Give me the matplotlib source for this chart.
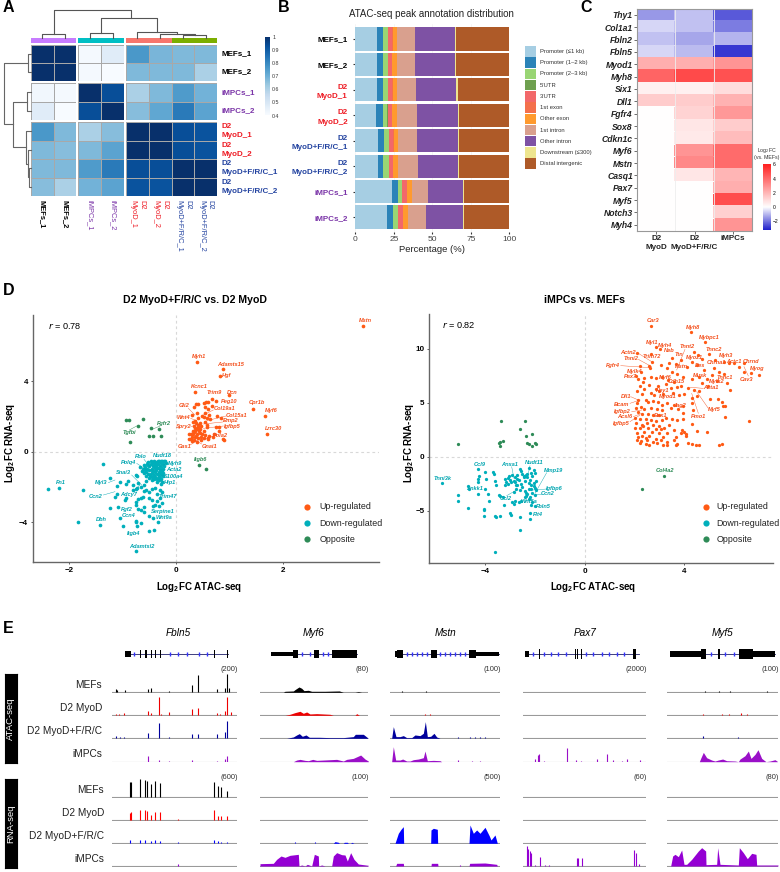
import numpy as np
import matplotlib
matplotlib.use("Agg")
import matplotlib.pyplot as plt
from matplotlib.colors import LinearSegmentedColormap, TwoSlopeNorm, Normalize

plt.rcParams['font.family'] = ['Liberation Sans', 'DejaVu Sans']
plt.rcParams['mathtext.fontset'] = 'custom'
plt.rcParams['mathtext.rm'] = 'Liberation Sans'
plt.rcParams['mathtext.bf'] = 'Liberation Sans:bold'

W, H = 780, 872

# ---------- panel A data
corr_names = ["MEFs_1", "MEFs_2", "iMPCs_1", "iMPCs_2", "D2\nMyoD_1", "D2\nMyoD_2", "D2\nMyoD+F/R/C_1", "D2\nMyoD+F/R/C_2"]
corr_colors = ["black", "black", "#7b35a8", "#7b35a8", "#ee1c25", "#ee1c25", "#2343a0", "#2343a0"]
corr = np.array([
    [1.00, 1.00, 0.41, 0.47, 0.76, 0.68, 0.67, 0.67],
    [1.00, 1.00, 0.41, 0.40, 0.67, 0.67, 0.67, 0.60],
    [0.42, 0.41, 1.00, 0.93, 0.60, 0.67, 0.75, 0.69],
    [0.47, 0.40, 0.93, 1.00, 0.66, 0.72, 0.83, 0.73],
    [0.76, 0.67, 0.60, 0.66, 1.00, 1.00, 0.93, 0.92],
    [0.67, 0.66, 0.67, 0.73, 1.00, 1.00, 0.93, 0.92],
    [0.67, 0.67, 0.75, 0.83, 0.93, 0.93, 1.00, 1.00],
    [0.66, 0.60, 0.69, 0.73, 0.92, 0.92, 1.00, 1.00]])
corr_ticks = [1, 0.9, 0.8, 0.7, 0.6, 0.5, 0.4]
# dendrogram links: left pos, right pos, height of link, height of left child, height of right child
top_links = [(126, 195, 103, 113, 113), (269, 338, 100, 113, 113), (550, 618, 104, 113, 113), (481, 584, 101, 113, 104),
             (412, 532, 97, 113, 101), (304, 472, 55, 100, 97), (161, 392, 30, 103, 55)]
left_links = [(505, 560, 88, 92, 92), (450, 532, 85, 92, 88), (394, 491, 78, 92, 85), (161, 216, 85, 92, 92),
              (305, 442, 38, 80, 78), (277, 333, 80, 92, 92), (188, 373, 11, 85, 38)]

# ---------- panel B data
bar_names = ["MEFs_1", "MEFs_2", "D2\nMyoD_1", "D2\nMyoD_2", "D2\nMyoD+F/R/C_1", "D2\nMyoD+F/R/C_2", "iMPCs_1", "iMPCs_2"]
bar_name_colors = ["black", "black", "#ee1c25", "#ee1c25", "#2343a0", "#2343a0", "#7b35a8", "#7b35a8"]
anno_names = ["Promoter (≤1 kb)", "Promoter (1–2 kb)", "Promoter (2–3 kb)", "5'UTR", "3'UTR", "1st exon", "Other exon",
              "1st intron", "Other intron", "Downstream (≤300)", "Distal intergenic"]
anno_colors = ["#a6cee3", "#2b83b8", "#99d574", "#6fa04f", "#f2686a", "#f4704c", "#ff9a2e", "#d9a08e", "#7e52a4", "#eee58e", "#ae5a28"]
anno_pct = np.array([
    [14.2, 4.0, 3.2, 0.1, 2.6, 0.2, 2.9, 11.8, 25.6, 1.0, 34.4],
    [14.0, 4.0, 3.2, 0.1, 2.6, 0.2, 2.8, 12.0, 25.9, 0.9, 34.2],
    [14.1, 4.0, 3.2, 0.1, 2.6, 0.2, 3.0, 12.3, 26.1, 1.0, 33.4],
    [13.7, 4.0, 3.2, 0.1, 2.8, 0.2, 3.2, 12.9, 26.3, 1.0, 32.5],
    [14.5, 4.0, 3.3, 0.1, 2.8, 0.2, 2.9, 12.3, 26.3, 1.0, 32.5],
    [14.5, 3.8, 3.3, 0.1, 2.8, 0.2, 3.0, 12.7, 26.0, 1.0, 32.5],
    [23.6, 3.9, 3.0, 0.1, 2.7, 0.2, 3.0, 10.9, 22.3, 0.8, 29.4],
    [20.6, 3.9, 3.3, 0.1, 3.1, 0.2, 3.1, 11.6, 23.8, 0.8, 29.5]])

# ---------- panel C data
fc_genes = ["Thy1", "Col1a1", "Fbln2", "Fbln5", "Myod1", "Myh8", "Six1", "Dll1", "Fgfr4", "Sox8", "Cdkn1c", "Myf6", "Mstn",
            "Casq1", "Pax7", "Myf5", "Notch3", "Myh4"]
fc_samples = ["D2\nMyoD", "D2\nMyoD+F/R/C", "iMPCs"]
fc_myod = [-1.5, -0.6, -0.9, -0.6, 2.2, 4.2, 0.4, 1.4, 0, 0, 0, 0, 0, 0, 0, 0, 0, 0]
fc_combo = [-0.9, -0.9, -1.3, -1.0, 2.2, 4.9, 0.4, 1.4, 1.2, 0.7, 0.6, 2.9, 3.2, 0.7, 0, 0, 0, 0]
fc_impc = [-2.4, -1.9, -1.1, -2.9, 2.9, 4.7, 0.9, 2.1, 2.8, 1.4, 1.8, 4.0, 4.0, 2.0, 2.2, 4.8, 1.3, 2.9]
fc_ticks = [6, 4, 2, 0, -2]

# ---------- panel D data (left plot)
up_l = [(3.51, 7.13), (0.39, 5.06), (0.89, 4.68), (0.82, 4.26), (0.37, 3.38), (0.99, 3.2), (0.68, 3.0), (0.76, 2.9), (1.45, 2.43),
        (1.66, 2.0), (1.7, 0.98), (0.38, 2.7), (0.41, 2.72), (0.35, 2.55), (0.53, 2.75), (0.57, 2.8), (0.6, 2.82), (0.55, 2.55),
        (0.68, 2.6), (0.6, 2.4), (0.4, 2.22), (0.55, 2.2), (0.3, 2.1), (0.62, 2.1), (0.52, 1.98), (0.5, 2.0), (0.42, 1.9),
        (0.58, 1.9), (0.78, 2.0), (0.84, 1.9), (0.65, 1.85), (0.36, 1.75), (0.32, 1.7), (0.55, 1.7), (0.38, 1.6), (0.45, 1.65),
        (0.42, 1.5), (0.35, 1.45), (0.48, 1.45), (0.58, 1.5), (0.58, 1.4), (0.75, 1.42), (0.8, 1.42), (0.4, 1.3), (0.45, 1.28),
        (0.33, 1.2), (0.37, 1.15), (0.8, 1.15), (0.72, 1.0), (0.24, 1.0), (0.28, 1.0), (0.33, 0.98), (0.4, 1.02), (0.45, 1.05),
        (0.5, 1.0), (0.55, 0.95), (0.62, 0.9), (0.7, 0.85), (0.6, 0.8), (0.3, 0.85), (0.36, 0.85), (0.42, 0.8), (0.47, 0.82),
        (0.52, 0.75), (0.6, 0.72), (0.88, 0.72), (0.9, 0.65), (0.25, 0.7), (0.3, 0.62), (0.35, 0.68), (0.4, 0.55), (0.47, 0.65),
        (0.28, 0.72), (0.38, 0.9), (0.34, 1.1), (0.43, 1.15), (0.52, 1.2), (0.36, 1.35), (0.41, 1.4)]
opp_l = [(-0.93, 1.78), (-0.88, 1.78), (-0.62, 1.83), (-0.71, 1.47), (-0.46, 1.32), (-0.31, 1.27), (-0.5, 0.9), (-0.43, 0.9),
         (-0.28, 0.87), (-0.85, 0.57), (0.43, -0.75), (0.56, -0.97)]
down_l = [(-1.36, -0.7), (-2.38, -2.1), (-2.18, -2.05), (-1.73, -2.15), (-1.82, -4.0), (-1.42, -4.13), (-1.22, -3.2), (-1.22, -1.5),
          (-1.1, -1.95), (-1.04, -1.7), (-1.1, -2.4), (-1.13, -2.55), (-1.07, -3.15), (-1.05, -3.75), (-0.98, -4.2), (-0.92, -2.6),
          (-0.95, -2.75), (-0.9, -1.65), (-0.92, -1.8), (-0.75, -2.1), (-0.8, -2.15), (-0.73, -2.05), (-0.74, -2.85), (-0.74, -3.0),
          (-0.7, -2.7), (-0.65, -2.6), (-0.62, -2.55), (-0.7, -3.25), (-0.65, -3.3), (-0.6, -3.15), (-0.6, -3.4), (-0.74, -3.9),
          (-0.74, -4.0), (-0.73, -4.2), (-0.65, -4.05), (-0.5, -3.65), (-0.43, -3.75), (-0.5, -4.5), (-0.4, -4.45), (-0.34, -4.0),
          (-0.75, -5.6), (-0.65, -2.0), (-0.6, -2.2), (-0.55, -2.15), (-0.5, -2.3), (-0.45, -2.1), (-0.38, -2.05), (-0.3, -2.15),
          (-0.25, -2.3), (-0.5, -2.6), (-0.45, -2.75), (-0.35, -2.4), (-0.3, -2.6), (-0.25, -2.9), (-0.35, -2.8), (-0.38, -3.0),
          (-0.42, -3.05), (-0.32, -3.1), (-0.8, -1.9), (-0.7, -1.75), (-0.6, -1.9), (-0.55, -1.65), (-0.45, -1.6), (-0.35, -1.7),
          (-0.28, -1.85), (-0.25, -1.7), (-0.75, -1.3), (-0.72, -1.4),
          # the dense blob near the origin
          (-0.66, -0.85), (-0.62, -0.95), (-0.6, -0.75), (-0.58, -1.05), (-0.57, -0.85), (-0.55, -1.15), (-0.54, -0.7), (-0.53, -0.95),
          (-0.52, -1.25), (-0.51, -0.6), (-0.5, -0.82), (-0.49, -1.05), (-0.48, -1.35), (-0.47, -0.5), (-0.46, -0.72), (-0.45, -0.95),
          (-0.45, -1.18), (-0.44, -1.45), (-0.43, -0.58), (-0.42, -0.82), (-0.42, -1.08), (-0.41, -1.3), (-0.4, -0.5), (-0.39, -0.7),
          (-0.39, -0.92), (-0.38, -1.15), (-0.38, -1.42), (-0.37, -0.58), (-0.36, -0.8), (-0.36, -1.02), (-0.35, -1.25), (-0.35, -1.55),
          (-0.34, -0.5), (-0.33, -0.68), (-0.33, -0.9), (-0.32, -1.12), (-0.32, -1.35), (-0.31, -0.55), (-0.3, -0.78), (-0.3, -1.0),
          (-0.29, -1.22), (-0.29, -1.48), (-0.28, -0.5), (-0.27, -0.65), (-0.27, -0.88), (-0.26, -1.1), (-0.26, -1.32), (-0.25, -0.52),
          (-0.24, -0.72), (-0.24, -0.95), (-0.23, -1.18), (-0.22, -0.55), (-0.21, -0.8), (-0.2, -0.5), (-0.19, -0.62), (-0.5, -1.5),
          (-0.46, -1.25), (-0.56, -1.35), (-0.6, -1.2), (-0.63, -1.1), (-0.41, -0.62), (-0.35, -0.62), (-0.44, -1.05), (-0.28, -1.05),
          (-0.52, -0.75), (-0.4, -1.55), (-0.34, -1.48), (-0.27, -1.55), (-0.24, -1.4), (-0.31, -1.62)]

labels_up_l = [("Mstn", 1097, 61), ("Myh1", 597, 169), ("Adamts15", 691, 192), ("Hgf", 681, 227), ("Kcnc1", 597, 259), ("Trim9", 644, 276),
               ("Dcn", 697, 276), ("Peg10", 688, 303), ("Cpr1b", 770, 308), ("Myf6", 814, 331), ("Gli2", 552, 316), ("Col19a1", 674, 326),
               ("Col15a1", 711, 346), ("Wnt4", 551, 353), ("Bmp2", 692, 362), ("Igfbp5", 697, 378), ("Spry2", 550, 380), ("Lrrc30", 820, 386),
               ("Pola2", 660, 406), ("Gas1", 553, 440), ("Gnai1", 628, 440)]
labels_down_l = [("Fblo", 423, 470), ("Nudt18", 487, 466), ("Polq4", 387, 487), ("Myh9", 526, 490), ("Acta2", 520, 508), ("S100a4", 521, 528),
                 ("Snai3", 371, 516), ("Hip1", 509, 548), ("Fn1", 183, 548), ("Myl3", 303, 548), ("Ccn2", 288, 590), ("Adcy7", 385, 584),
                 ("Trim47", 503, 590), ("Fgf2", 381, 627), ("Serpine1", 487, 634), ("Ccn4", 386, 645), ("Wnt9a", 491, 653), ("Dbh", 305, 657),
                 ("Itgb4", 401, 699), ("Adamtsl2", 424, 738)]
labels_opp_l = [("Fgfr2", 493, 371), ("Tgfbi", 388, 398), ("Itgb6", 601, 477)]
leaders_up_l = [(565, 325, 585, 345), (572, 355, 590, 362), (572, 380, 600, 372), (640, 330, 610, 345), (678, 348, 620, 362),
                (668, 366, 610, 372), (670, 378, 610, 385), (640, 408, 610, 418), (570, 435, 595, 420), (605, 432, 585, 420)]
leaders_down_l = [(410, 490, 440, 510), (432, 478, 450, 500), (395, 525, 425, 555), (325, 548, 345, 540), (310, 585, 345, 575),
                  (400, 575, 420, 555), (495, 546, 480, 540), (500, 490, 480, 500), (495, 508, 478, 510), (492, 526, 478, 525)]
leaders_opp_l = [(480, 378, 452, 390), (388, 390, 410, 378)]

# ---------- panel D data (right plot)
up_r = [(2.67, 12.15), (4.28, 11.55), (4.84, 10.6), (2.85, 10.15), (3.03, 10.0), (3.5, 9.2), (2.1, 9.65), (2.65, 9.5), (4.4, 9.7), (5.0, 9.55),
        (4.55, 9.4), (4.7, 9.1), (5.25, 8.95), (5.6, 8.8), (5.8, 8.67), (5.98, 8.73), (6.18, 8.36), (6.4, 8.67), (6.69, 7.8), (6.98, 7.6),
        (6.58, 3.3), (6.4, 7.9), (5.6, 7.7), (5.4, 7.9), (5.2, 8.2), (5.1, 7.6), (4.8, 8.0), (4.5, 8.5), (4.3, 8.8), (4.1, 8.3), (3.85, 9.0),
        (3.65, 8.6), (3.4, 8.7), (3.3, 8.2), (3.05, 8.5), (2.7, 8.75), (2.6, 8.4), (2.62, 8.2), (2.2, 8.4), (2.25, 7.9), (2.05, 7.5),
        (3.5, 7.9), (3.7, 7.7), (3.95, 7.4), (4.3, 7.2), (4.6, 7.4), (4.9, 7.2), (5.3, 7.0), (5.7, 6.8), (4.7, 6.8), (4.95, 6.6), (5.85, 6.2),
        (2.15, 7.2), (2.4, 7.3), (2.65, 7.4), (2.85, 7.3), (3.1, 7.4), (3.35, 7.15), (3.6, 6.9), (3.25, 6.75), (2.35, 6.9), (2.6, 6.7),
        (2.95, 6.6), (3.85, 6.6), (2.2, 6.6), (2.4, 6.3), (2.85, 6.3), (3.0, 6.1), (3.45, 6.4), (3.7, 6.5), (4.15, 6.4), (4.4, 6.2), (4.6, 6.1),
        (2.1, 6.1), (2.3, 5.8), (2.65, 5.9), (2.8, 5.7), (3.15, 5.85), (3.55, 5.9), (3.8, 5.7), (4.0, 5.8), (4.3, 5.5), (4.5, 5.6), (5.05, 5.4),
        (5.35, 5.4), (5.5, 5.1), (5.55, 4.7), (5.65, 4.7), (4.3, 5.0), (4.35, 4.3), (5.65, 3.7), (2.15, 5.3), (2.1, 5.0), (2.45, 5.3),
        (2.55, 5.05), (2.75, 5.2), (2.95, 5.1), (3.1, 4.85), (3.3, 5.0), (3.6, 4.8), (3.95, 4.7), (2.05, 4.5), (2.25, 4.6), (2.4, 4.4),
        (2.65, 4.5), (2.9, 4.45), (3.1, 4.3), (3.45, 4.5), (3.75, 4.4), (3.95, 4.1), (2.15, 4.15), (2.3, 3.95), (2.55, 4.0), (2.75, 3.9),
        (3.0, 3.85), (3.25, 3.6), (3.5, 3.55), (3.7, 3.4), (3.95, 3.5), (2.0, 3.6), (2.2, 3.55), (2.45, 3.5), (2.65, 3.4), (2.85, 3.3),
        (3.1, 3.45), (4.3, 3.05), (2.05, 3.1), (2.3, 3.0), (2.5, 3.1), (2.75, 2.95), (3.0, 2.9), (3.4, 3.0), (2.0, 2.7), (2.2, 2.65),
        (2.35, 2.85), (2.55, 2.7), (2.85, 2.6), (3.05, 2.55), (3.2, 2.7), (3.6, 2.5), (3.9, 2.5), (4.0, 2.35), (4.5, 2.4), (4.9, 2.35), (2.1, 2.25),
        (2.4, 2.3), (2.7, 2.35), (3.0, 2.25), (3.3, 2.2), (3.85, 2.2), (4.05, 2.1), (2.15, 1.85), (2.3, 1.95), (2.45, 1.75), (2.6, 1.9),
        (2.85, 1.7), (3.15, 1.85), (3.65, 1.85), (4.05, 1.9), (2.1, 1.55), (2.25, 1.5), (2.5, 1.55), (2.75, 1.4), (3.05, 1.55), (3.3, 1.4),
        (3.6, 1.6), (2.2, 1.25), (2.45, 1.2), (2.6, 1.1), (2.9, 1.25), (3.15, 1.1), (3.3, 1.15), (3.65, 1.1), (3.7, 1.2), (4.15, 1.3), (4.3, 1.2),
        (4.45, 1.15), (4.6, 1.15), (5.4, 1.15), (5.5, 1.2)]
down_r = [(-5.75, -2.4), (-5.1, -3.5), (-5.1, -4.1), (-4.7, -4.7), (-4.7, -2.65), (-4.65, -3.0), (-4.3, -1.1), (-4.3, -2.0), (-4.3, -2.3),
          (-4.25, -1.8), (-4.3, -3.45), (-4.05, -4.8), (-4.05, -4.95), (-4.05, -5.45), (-4.0, -1.4), (-4.0, -3.0), (-3.95, -2.0), (-3.9, -3.4),
          (-3.85, -4.1), (-3.7, -1.35), (-3.65, -1.6), (-3.55, -2.6), (-3.6, -2.2), (-3.6, -5.5), (-3.55, -5.6), (-3.4, -5.5), (-3.6, -8.8),
          (-3.45, -3.5), (-3.4, -3.6), (-3.25, -4.4), (-3.2, -2.0), (-3.15, -2.35), (-3.1, -2.5), (-3.05, -1.75), (-3.0, -5.2), (-2.95, -5.4),
          (-2.9, -1.7), (-2.85, -2.2), (-2.8, -2.35), (-2.75, -2.6), (-2.75, -3.0), (-2.85, -3.2), (-2.9, -4.2), (-2.85, -4.35), (-2.8, -4.05),
          (-2.7, -1.7), (-2.65, -2.15), (-2.55, -2.5), (-2.6, -3.1), (-2.6, -5.55), (-2.6, -6.8), (-2.55, -1.3), (-2.6, -1.15), (-2.5, -1.6),
          (-2.45, -1.9), (-2.4, -2.2), (-2.35, -1.7), (-2.3, -1.55), (-2.25, -1.05), (-2.3, -1.85), (-2.2, -2.1), (-2.15, -1.5), (-2.1, -1.75),
          (-2.05, -1.25), (-2.35, -3.3), (-2.35, -3.6), (-2.3, -3.45), (-2.25, -3.0), (-2.2, -3.7), (-2.15, -3.0), (-2.05, -2.4), (-2.05, -2.65),
          (-2.0, -2.9), (-2.0, -3.5), (-2.0, -1.5), (-2.2, -5.15), (-2.2, -5.75), (-2.15, -4.4), (-2.0, -4.5), (-2.55, -4.1), (-2.65, -4.2),
          (-2.95, -2.3), (-3.1, -1.95), (-2.7, -2.55), (-2.5, -2.8), (-2.45, -1.75), (-2.25, -2.4), (-2.15, -2.55), (-1.95, -2.2), (-1.95, -3.1),
          (-2.1, -3.35), (-2.4, -3.15), (-2.4, -3.75), (-2.25, -3.85), (-2.1, -4.2), (-2.7, -2.0), (-2.8, -1.85), (-3.0, -2.15), (-3.2, -2.6), (-3.3, -3.75)]
opp_r = [(-5.1, 1.22), (-3.35, 3.3), (-2.4, 3.3), (-2.6, 2.6), (-2.35, 1.9), (-2.1, 2.15), (-3.4, 1.05), (-3.45, 1.3), (-3.3, 1.5), (-3.4, 1.4),
         (-2.3, 1.3), (-2.25, 1.2), (-2.1, 1.05), (-2.0, 1.25), (-1.95, 1.2), (3.2, -1.75), (2.3, -2.95)]
labels_up_r = [("Car3", 788, 62), ("Myh8", 908, 81), ("Mybpc1", 958, 113), ("Myl1", 786, 126), ("Myh4", 826, 136), ("Neb", 838, 150),
               ("Tnnt2", 892, 140), ("Actn2", 715, 157), ("Tnni2", 722, 176), ("Trim72", 786, 168), ("Ttn", 867, 162), ("Myoz1", 914, 172),
               ("Tnnc2", 970, 148), ("Myh3", 1008, 166), ("Chrna1", 978, 186), ("Actc1", 1031, 183), ("Chrnd", 1082, 183), ("Myog", 1100, 204),
               ("Fgfr4", 668, 196), ("Des", 930, 195), ("Mstn", 875, 200), ("Mylk4", 733, 213), ("Pax7", 720, 228), ("Myf6", 827, 232),
               ("Cdh15", 860, 245), ("Musk", 930, 225), ("Tnnc1", 1005, 232), ("Mylk2", 980, 243), ("Cav3", 1070, 238), ("Hey1", 818, 270),
               ("Acta1", 962, 262), ("Dll1", 707, 288), ("Myod1", 832, 288), ("Bcam", 694, 312), ("Myf5", 972, 327), ("Igfbp2", 698, 333),
               ("Jag2", 870, 316), ("Acsl6", 704, 350), ("Bex1", 812, 345), ("Pmo1", 925, 348), ("Igfbp5", 693, 370)]
labels_down_r = [("Ccl9", 268, 492), ("Anxa1", 358, 493), ("Nudt11", 433, 488), ("Mmp19", 490, 512), ("Tnni3k", 159, 534), ("Igfbp6", 492, 565),
                 ("Ankk1", 255, 566), ("Ccn2", 474, 581), ("Ccl2", 346, 594), ("Wnt5a", 417, 604), ("Fbln5", 461, 620), ("Flt4", 444, 644)]
labels_opp_r = [("Col4a2", 826, 512)]
leaders_up_r = [(692, 197, 782, 203), (745, 178, 785, 200), (955, 325, 920, 275), (925, 340, 905, 280), (940, 265, 900, 262), (720, 365, 750, 345),
                (730, 350, 755, 340), (725, 335, 755, 330), (720, 310, 750, 300), (722, 290, 745, 300), (885, 148, 860, 210), (1075, 228, 1062, 200),
                (745, 160, 785, 185)]
leaders_down_r = [(470, 518, 435, 580), (470, 567, 430, 570), (365, 500, 372, 535), (455, 583, 430, 585), (350, 587, 380, 570), (420, 497, 415, 520)]

# ---------- panel E data
gene_names = ["Fbln5", "Myf6", "Mstn", "Pax7", "Myf5"]
scales_atac = ["(200)", "(80)", "(100)", "(2000)", "(100)"]
scales_rna = ["(600)", "(100)", "(500)", "(60)", "(80)"]
track_rows = ["MEFs", "D2 MyoD", "D2 MyoD+F/R/C", "iMPCs"]

# gene structure: exons (start, end, half height) and arrow positions along the intron line
fbln5_exons = [(375, 393, 8), (421, 423, 13), (436, 440, 13), (452, 455, 13), (466, 469, 13), (481, 483, 13), (643, 645, 13), (653, 655, 13), (665, 667, 13), (681, 683, 13)]
fbln5_arrows = [403, 510, 535, 560, 597, 620]
myf6_exons = [(812, 880, 7), (880, 895, 13), (943, 957, 13), (995, 1070, 13)]
myf6_arrows = [907, 930, 970, 985]
mstn_exons = [(15, 25, 8), (20, 40, 13), (124, 142, 13), (238, 258, 13), (258, 327, 7)]
mstn_arrows = [50, 65, 80, 95, 110, 150, 165, 180, 195, 210, 225]
pax7_exons = [(405, 418, 9), (447, 449, 16), (555, 558, 16), (561, 564, 16), (573, 575, 16), (729, 738, 16), (746, 748, 16)]
pax7_arrows = [430, 462, 483, 505, 528, 587, 610, 635, 658, 680, 703]
myf5_exons = [(840, 932, 8), (932, 948, 15), (983, 990, 15), (1048, 1090, 15), (1090, 1155, 8)]
myf5_arrows = [963, 1005, 1033]

# tracks: (position, signal), 8 rows per gene. spikes are drawn as thin peaks, areas as filled coverage
fbln5_spikes = [
    [(348, 10), (351, 6), (375, 8), (445, 10), (454, 12), (507, 5), (577, 22), (595, 52), (650, 10), (675, 12), (682, 55), (687, 12)],
    [(348, 5), (358, 5), (371, 7), (445, 12), (453, 7), (478, 55), (484, 4), (507, 9), (577, 20), (595, 22), (650, 8), (660, 4), (675, 12), (682, 55), (692, 9)],
    [(348, 6), (360, 4), (373, 3), (445, 15), (478, 45), (507, 4), (577, 13), (595, 12), (650, 14), (675, 18), (682, 52)],
    [(445, 16), (478, 6), (507, 2), (577, 4), (650, 3), (675, 8), (682, 16)],
    [(391, 45), (393, 45), (421, 55), (436, 52), (440, 50), (454, 40), (466, 48), (481, 42), (643, 46), (653, 35), (664, 30), (681, 18)],
    [(391, 22), (394, 24), (421, 30), (436, 30), (440, 28), (454, 15), (466, 25), (481, 26), (534, 4), (643, 32), (653, 14), (664, 14), (681, 14)],
    [(391, 9), (421, 9), (436, 10), (454, 8), (466, 11), (481, 8), (534, 4), (643, 11), (653, 6), (664, 4), (681, 3)],
    [(534, 5)]]
myf6_spikes = [[], [], [], [], [], [], [(885, 3), (944, 4)], []]
myf6_areas = [
    [(850, 0), (855, 3), (880, 4), (885, 8), (897, 16), (905, 12), (912, 5), (925, 6), (935, 3), (975, 3), (1018, 4), (1030, 0), (1065, 0), (1075, 2), (1085, 0)],
    [(855, 0), (870, 3), (885, 8), (900, 12), (910, 6), (920, 10), (930, 4), (950, 5), (990, 3), (1000, 0), (1065, 0), (1070, 5), (1078, 0)],
    [(860, 0), (880, 4), (890, 10), (898, 14), (907, 6), (918, 10), (928, 3), (958, 3), (990, 2), (1030, 2), (1060, 5), (1066, 12), (1090, 12), (1100, 4), (1105, 0)],
    [(880, 0), (890, 5), (900, 7), (915, 4), (925, 3), (938, 7), (950, 4), (970, 5), (1010, 7), (1030, 2), (1040, 7), (1060, 10), (1082, 20), (1095, 8), (1105, 2)],
    [], [],
    [(1000, 0), (1005, 5), (1015, 3), (1018, 0), (1030, 0), (1033, 3), (1042, 3), (1045, 0), (1052, 0), (1055, 3), (1062, 0)],
    [(780, 7), (820, 8), (830, 20), (843, 30), (855, 26), (870, 32), (895, 35), (897, 0), (905, 3), (915, 0), (922, 5), (935, 0), (943, 35), (955, 30), (956, 0), (965, 3), (975, 0),
     (995, 0), (1000, 30), (1010, 40), (1025, 34), (1035, 33), (1042, 15), (1052, 40), (1062, 20), (1075, 6), (1105, 2)]]
mstn_spikes = [
    [(20, 2), (35, 3), (45, 2), (95, 2), (107, 3), (133, 2)],
    [(8, 2), (60, 2), (72, 2), (85, 2), (105, 5), (120, 3), (135, 2), (240, 2), (280, 2)],
    [(205, 3), (240, 3), (255, 3), (270, 3), (285, 5)],
    [(205, 5), (245, 3), (270, 2)],
    [], [], [], [(210, 3)]]
mstn_areas = [
    [], [],
    [(5, 0), (10, 35), (18, 5), (30, 5), (40, 8), (50, 2), (65, 2), (75, 10), (90, 8), (100, 15), (106, 50), (112, 5), (122, 6), (132, 15), (140, 4), (150, 0)],
    [(5, 0), (10, 45), (17, 5), (30, 5), (38, 8), (50, 2), (60, 2), (70, 6), (85, 8), (100, 12), (105, 32), (112, 3), (130, 4), (150, 3), (155, 0)],
    [], [],
    [(15, 0), (25, 30), (33, 42), (40, 50), (41, 0), (122, 0), (123, 40), (130, 45), (142, 42), (143, 0), (237, 0), (240, 55), (250, 30), (260, 40), (270, 30), (285, 48), (298, 22), (303, 10), (315, 25), (322, 0)],
    [(17, 0), (20, 8), (40, 8), (41, 0), (123, 0), (124, 8), (143, 8), (144, 0), (237, 0), (239, 8), (285, 9), (320, 5), (322, 0)]]
pax7_spikes = [
    [(465, 1), (620, 1), (650, 1)], [], [],
    [(435, 8), (445, 20), (448, 22), (463, 1), (530, 42), (557, 4), (572, 3), (620, 8), (652, 22), (670, 6), (695, 3), (710, 8), (750, 5)],
    [], [], [],
    [(410, 60), (414, 50), (420, 45), (423, 40), (451, 27), (435, 3), (465, 3), (478, 2), (560, 25), (564, 25), (577, 24), (732, 48), (738, 38), (747, 5)]]
myf5_spikes = [
    [(920, 2), (945, 3), (987, 5), (1020, 5), (1040, 2), (1060, 2), (1130, 3)],
    [(940, 5), (995, 3), (1017, 3), (1052, 7), (1070, 3), (1080, 2), (1130, 1)],
    [(940, 6), (985, 2), (1045, 3), (1075, 2), (1100, 1)],
    [], [], [], [], []]
myf5_areas = [
    [], [], [],
    [(928, 0), (932, 10), (940, 28), (950, 12), (965, 5), (975, 2), (985, 5), (998, 8), (1010, 3), (1035, 2), (1045, 0), (1050, 8), (1065, 18), (1075, 32), (1083, 10), (1095, 22), (1104, 36), (1115, 10), (1128, 0), (1140, 2), (1155, 6), (1162, 1)],
    [], [], [],
    [(842, 0), (848, 30), (855, 35), (865, 28), (875, 48), (882, 5), (890, 5), (905, 20), (925, 45), (935, 55), (947, 45), (948, 4), (980, 5), (983, 55), (990, 5), (1045, 3), (1048, 55), (1060, 40), (1072, 22), (1085, 38), (1098, 35), (1100, 3), (1164, 3)]]
empty_tracks = [[], [], [], [], [], [], [], []]

fig = plt.figure(figsize=(7.8, 8.72), dpi=100)


def box(x0, y0, x1, y1, **kw):
    # axes from pixel corners of the page, y measured from the top
    return fig.add_axes([x0 / W, 1 - y1 / H, (x1 - x0) / W, (y1 - y0) / H], **kw)


page = box(0, 0, W, H)
page.set_xlim(0, W)
page.set_ylim(H, 0)
page.axis("off")
page.set_zorder(10)
page.patch.set_alpha(0)

for letter, lx, ly in [("A", 3, 8), ("B", 278, 8), ("C", 580, 8), ("D", 3, 290), ("E", 3, 628)]:
    page.text(lx, ly, letter, fontsize=11.5, fontweight="bold", va="center")

# ---------- A: correlation heatmap
groups = [(0, 2), (2, 4), (4, 8)]
col_edges = [(31, 76), (78, 124), (126, 217.3)]
row_edges = [(44.7, 81), (83.3, 120), (122.3, 196)]
norm_a = Normalize(0.4, 1)
for (r0, r1), (ya, yb) in zip(groups, row_edges):
    for (c0, c1), (xa, xb) in zip(groups, col_edges):
        ax = box(xa, ya, xb, yb)
        ax.pcolormesh(corr[r0:r1, c0:c1], cmap="Blues", norm=norm_a, edgecolors="#a8a8a8", linewidth=0.6)
        ax.invert_yaxis()
        ax.axis("off")

bar_groups = [("#c77cff", 31, 76), ("#00bfc4", 78, 124), ("#f8766d", 126, 171.5), ("#7cae00", 171.5, 217.3)]
for c, xa, xb in bar_groups:
    ax = box(xa, 37.7, xb, 42.7)
    ax.set_facecolor(c)
    ax.set_xticks([])
    ax.set_yticks([])
    for s in ax.spines.values():
        s.set_visible(False)

for xl, xr, yy, ya, yb in top_links:
    page.plot([xl / 3, xl / 3, xr / 3, xr / 3], [ya / 3, yy / 3, yy / 3, yb / 3], color="#555555", lw=0.8)
for yl, yr, xx, xa, xb in left_links:
    page.plot([xa / 3, xx / 3, xx / 3, xb / 3], [yl / 3, yl / 3, yr / 3, yr / 3], color="#666666", lw=0.8)

row_y = [53.7, 72, 92.3, 111, 131.3, 150, 168.3, 186.7]
col_x = [42, 65, 89.7, 112.7, 137.3, 160.3, 183.3, 206]
for i in range(8):
    page.text(221, row_y[i], corr_names[i], color=corr_colors[i], fontsize=5.8, fontweight="bold", va="center", linespacing=1.45)
    page.text(col_x[i], 200, corr_names[i], color=corr_colors[i], fontsize=5.4, fontweight="bold" if i < 2 else "normal", rotation=270,
              ha="center", va="top", ma="left", linespacing=1.3)

cax = box(265, 37, 270, 115.5)
cax.imshow(np.linspace(1, 0.4, 100)[:, None], cmap="Blues", norm=norm_a, aspect="auto", extent=[0, 1, 0.4, 1])
cax.set_xticks([])
cax.yaxis.tick_right()
cax.set_yticks(corr_ticks, [str(t) for t in corr_ticks], fontsize=3.8)
cax.tick_params(length=0, pad=1.5, colors="#333333")
for s in cax.spines.values():
    s.set_visible(False)

# ---------- B: stacked bars
axb = box(355.3, 24, 509.3, 232)
y_pos = np.arange(8)
left = np.zeros(8)
for j in range(len(anno_names)):
    axb.barh(y_pos, anno_pct[:, j], left=left, height=0.92, color=anno_colors[j], linewidth=0)
    left += anno_pct[:, j]
axb.set_xlim(0, 100)
axb.set_ylim(7.58, -0.58)
axb.set_xticks([0, 25, 50, 75, 100])
axb.set_xticklabels(["0", "25", "50", "75", "100"], fontsize=6, color="#444444")
axb.set_yticks(y_pos)
axb.set_yticklabels(bar_names, fontsize=5.8, fontweight="bold", ha="right", linespacing=1.45)
for lab, c in zip(axb.get_yticklabels(), bar_name_colors):
    lab.set_color(c)
axb.tick_params(axis="both", length=1.5, width=0.8, pad=1.5, color="#333333")
axb.tick_params(axis="y", pad=4)
axb.grid(color="#f2f2f2", lw=0.5)
axb.set_axisbelow(True)
for s in axb.spines.values():
    s.set_visible(False)
axb.set_xlabel("Percentage (%)", fontsize=6.8, labelpad=1, color="#222222")
page.text(431.7, 14, "ATAC-seq peak annotation distribution", fontsize=7, ha="center", va="center", color="#222222")

for j, name in enumerate(anno_names):
    ax = box(525.3, 46.3 + j * 11.2, 535.7, 46.3 + j * 11.2 + 10.6)
    ax.set_facecolor(anno_colors[j])
    ax.set_xticks([])
    ax.set_yticks([])
    for s in ax.spines.values():
        s.set_visible(False)
    page.text(540, 51.6 + j * 11.2, name, fontsize=4.25, va="center", color="#333333")

# ---------- C: fold change heatmap
fc = np.array([fc_myod, fc_combo, fc_impc]).T
fc_cmap = LinearSegmentedColormap.from_list("bwr2", ["#2222cc", "#ffffff", "#ff2222"])
fc_norm = TwoSlopeNorm(vcenter=0, vmin=-3.2, vmax=6)
axc = box(637, 8.7, 752, 231)
axc.pcolormesh(fc, cmap=fc_cmap, norm=fc_norm, edgecolors="face", linewidth=0.1)
for cut in [1, 2]:
    axc.axvline(cut, color="#eeeeee", lw=0.6)
axc.set_ylim(len(fc_genes), 0)
axc.set_xticks([0.5, 1.5, 2.5])
axc.set_xticklabels(fc_samples, fontsize=5.8, fontweight="bold", color="#222222", linespacing=1.4)
axc.set_yticks(np.arange(len(fc_genes)) + 0.5)
axc.set_yticklabels(fc_genes, fontsize=6.2, fontweight="bold", style="italic", color="#222222")
axc.tick_params(length=2, width=0.6, pad=1, color="#555555")
for s in axc.spines.values():
    s.set_color("#999999")
    s.set_linewidth(0.8)

cbar = box(763.3, 164.3, 771, 230)
grad = np.linspace(6, -3.2, 100)[:, None]
cbar.imshow(grad, cmap=fc_cmap, norm=fc_norm, aspect="auto", extent=[0, 1, -3.2, 6])
cbar.set_xticks([])
cbar.yaxis.tick_right()
cbar.set_yticks(fc_ticks, [str(t).replace("-", "−") for t in fc_ticks], fontsize=3.6)
cbar.tick_params(length=0, pad=1.5)
for s in cbar.spines.values():
    s.set_visible(False)
page.text(767, 153, "Log$_2$FC\n(vs. MEFs)", fontsize=3.8, ha="center", va="center", color="#333333")

# ---------- D: scatter plots
UP, DOWN, OPP = "#ff5a14", "#00afbb", "#2e8b57"


def scatter_panel(rect, xlim, ylim, xticks, yticks, up, down, opp, size, title, title_x, xlab_x, ylab_x):
    ax = box(*rect)
    for pts, c in [(up, UP), (down, DOWN), (opp, OPP)]:
        arr = np.array(pts)
        ax.scatter(arr[:, 0], arr[:, 1], s=size, color=c, linewidths=0, clip_on=False)
    ax.axhline(0, color="#d8d8d8", lw=0.8, ls=(0, (2.5, 2.5)), zorder=0)
    ax.axvline(0, color="#d8d8d8", lw=0.8, ls=(0, (2.5, 2.5)), zorder=0)
    ax.set_xlim(*xlim)
    ax.set_ylim(*ylim)
    ax.set_xticks(xticks)
    ax.set_yticks(yticks)
    ax.set_xticklabels([str(t).replace("-", "−") for t in xticks], fontsize=5.8, fontweight="bold")
    ax.set_yticklabels([str(t).replace("-", "−") for t in yticks], fontsize=5.8, fontweight="bold")
    ax.tick_params(length=1.5, width=0.6, pad=2, color="#444444")
    ax.spines[["top", "right"]].set_visible(False)
    ax.spines[["left", "bottom"]].set_color("#666666")
    ax.spines[["left", "bottom"]].set_linewidth(1)
    page.text(xlab_x, 587, r"Log$_\mathbf{2}$FC ATAC-seq", fontsize=7, fontweight="bold", ha="center", va="center")
    page.text(ylab_x, 443, r"Log$_\mathbf{2}$FC RNA-seq", fontsize=7, fontweight="bold", rotation=90, ha="center", va="center")
    page.text(title_x, 300, title, fontsize=7.6, fontweight="bold", ha="center", va="center")
    return ax


scatter_panel((32.7, 315, 379, 561.7), (-2.673, 3.80), (-6.225, 7.74), [-2, 0, 2], [-4, 0, 4], up_l, down_l, opp_l, 7,
              "D2 MyoD+F/R/C vs. D2 MyoD", 195, 199, 10)
scatter_panel((429.3, 314.3, 773, 563.3), (-6.24, 7.56), (-9.84, 13.2), [-4, 0, 4], [-5, 0, 5, 10], up_r, down_r, opp_r, 5.5,
              "iMPCs vs. MEFs", 585, 593, 409)


def gene_labels(names, color, xoff):
    for name, zx, zy in names:
        page.text(xoff + zx / 3, 300 + zy / 3, name, color=color, fontsize=4.1, fontweight="bold", style="italic", ha="center", va="center")


def leader_lines(segs, color, xoff):
    for x0, y0, x1, y1 in segs:
        page.plot([xoff + x0 / 3, xoff + x1 / 3], [300 + y0 / 3, 300 + y1 / 3], color=color, lw=0.3)


gene_labels(labels_up_l, "#f4511e", 0)
gene_labels(labels_down_l, "#00a5b0", 0)
gene_labels(labels_opp_l, OPP, 0)
leader_lines(leaders_up_l, "#f4511e", 0)
leader_lines(leaders_down_l, "#00a5b0", 0)
leader_lines(leaders_opp_l, OPP, 0)
gene_labels(labels_up_r, "#f4511e", 390)
gene_labels(labels_down_r, "#00a5b0", 390)
gene_labels(labels_opp_r, OPP, 390)
leader_lines(leaders_up_r, "#f4511e", 390)
leader_lines(leaders_down_r, "#00a5b0", 390)

page.text(47.7, 325.7, "$r$ = 0.78", fontsize=6.6, va="center")
page.text(441.7, 325, "$r$ = 0.82", fontsize=6.6, va="center")
for dot_x, txt_x in [(307, 319.3), (706, 716.7)]:
    for lab, c, yy in [("Up-regulated", UP, 506.7), ("Down-regulated", DOWN, 523), ("Opposite", OPP, 539.3)]:
        page.scatter([dot_x], [yy], s=20, color=c, linewidths=0)
        page.text(txt_x, yy, lab, fontsize=6.4, va="center", color="#222222")

# ---------- E: browser tracks
baselines = [692.3, 715.3, 738.3, 761.7, 797.3, 820.3, 843.3, 866]
row_colors = ["black", "#ee0000", "#00009c", "#9a10c8", "black", "#ff0000", "#0000ff", "#9400d3"]
columns = [
    (336, 710, 0, fbln5_spikes, empty_tracks, fbln5_exons, fbln5_arrows),
    (780, 1105, 0, myf6_spikes, myf6_areas, myf6_exons, myf6_arrows),
    (0, 331, 390, mstn_spikes, mstn_areas, mstn_exons, mstn_arrows),
    (400, 767, 390, pax7_spikes, empty_tracks, pax7_exons, pax7_arrows),
    (832, 1164, 390, myf5_spikes, myf5_areas, myf5_exons, myf5_arrows)]
gene_center = [178, 314, 446, 585, 723]

for g, (z0, z1, xoff, spikes, areas, exons, arrows) in enumerate(columns):
    px0, px1 = xoff + z0 / 3, xoff + z1 / 3
    page.text(gene_center[g], 633, gene_names[g], fontsize=7.2, style="italic", ha="center", va="center")
    page.text(px1 + 1, 669.3, scales_atac[g], fontsize=5.4, ha="right", va="center", color="#333333")
    page.text(px1 + 1, 777.7, scales_rna[g], fontsize=5.4, ha="right", va="center", color="#333333")

    gax = box(px0, 640, px1, 668)
    gax.set_xlim(z0, z1)
    gax.set_ylim(-42, 42)
    gax.axis("off")
    gax.plot([exons[0][0], exons[-1][1]], [0, 0], color="#20206a", lw=0.6, zorder=1)
    gax.plot(arrows, [0] * len(arrows), ls="", marker="|", ms=2.4, mew=1, color="#3333ff", zorder=2)
    for e0, e1, half in exons:
        gax.fill_between([e0, e1], -half, half, color="black", lw=0, zorder=3)

    for r in range(8):
        ax = box(px0, baselines[r] - 20, px1, baselines[r] + 0.5)
        ax.set_xlim(z0, z1)
        ax.set_ylim(-1.5, 60)
        ax.axis("off")
        ax.axhline(0, color="#9a9a9a", lw=0.8, zorder=1)
        if spikes[r]:
            sp = np.array(spikes[r])
            ax.vlines(sp[:, 0], 0, sp[:, 1], color=row_colors[r], lw=0.8, zorder=2)
        if areas[r]:
            ar = np.array(areas[r])
            ax.fill_between(ar[:, 0], 0, ar[:, 1], color=row_colors[r], lw=0, zorder=2)

for i, name in enumerate(track_rows):
    page.text(102, baselines[i] - 7.5, name, fontsize=7.3, ha="right", va="center", color="#222222")
    page.text(104, baselines[i + 4] - 7.5, name, fontsize=7.3, ha="right", va="center", color="#222222")

for ya, yb, txt in [(674, 763, "ATAC-seq"), (779, 868, "RNA-seq")]:
    side = box(4.7, ya, 17, yb)
    side.set_facecolor("black")
    side.set_xticks([])
    side.set_yticks([])
    page.text(10.8, (ya + yb) / 2, txt, color="white", fontsize=6.8, rotation=90, ha="center", va="center")

fig.savefig("out.png", dpi=100)
